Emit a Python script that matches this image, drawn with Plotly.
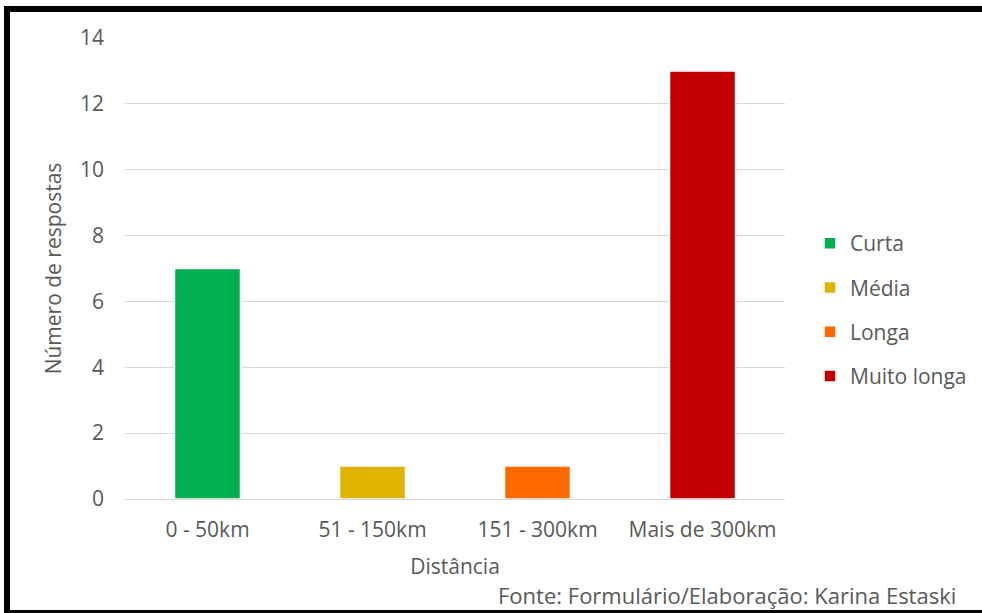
import plotly.graph_objects as go

categories = ["0 - 50km", "51 - 150km", "151 - 300km", "Mais de 300km"]
series_names = ["Curta", "Média", "Longa", "Muito longa"]
values = [7, 1, 1, 13]
colors = ["#00B050", "#DFB300", "#FF6A00", "#C00000"]
y_ticks = [0, 2, 4, 6, 8, 10, 12, 14]

FONT = "Open Sans"
FS = 21
GREY = "#595959"

fig = go.Figure()
for i, (name, cat, val, col) in enumerate(zip(series_names, categories, values, colors)):
    fig.add_trace(go.Bar(
        x=[cat], y=[val], name=name, legendgroup=name,
        marker=dict(color=col, line=dict(color="white", width=1.5)),
        width=0.4,
    ))

L, T, R, B = 125, 38, 785, 499
W, H = R - L, B - T

def px_x(p):
    return (p - L) / W

def px_y(p):
    return (B - p) / H

border = dict(xref="paper", yref="paper", type="line",
              line=dict(color="black", width=6), layer="above")

fig.update_layout(
    width=982, height=613,
    margin=dict(l=L, r=982 - R, t=T, b=613 - B, autoexpand=False),
    paper_bgcolor="white", plot_bgcolor="white",
    barmode="overlay",
    font=dict(family=FONT, size=FS, color=GREY),
    showlegend=True,
    legend=dict(
        x=px_x(810), xanchor="left", y=0.410, yanchor="middle",
        font=dict(family=FONT, size=FS, color=GREY),
        tracegroupgap=14, traceorder="grouped",
        bgcolor="rgba(0,0,0,0)",
    ),
    xaxis=dict(
        categoryorder="array", categoryarray=categories,
        showgrid=False, showline=True, linecolor="#D9D9D9", linewidth=1,
        ticks="", tickfont=dict(family=FONT, size=FS, color=GREY),
        ticklabelstandoff=12,
        title=dict(text="Distância", font=dict(family=FONT, size=FS, color=GREY), standoff=17),
    ),
    yaxis=dict(
        range=[0, 14], tickvals=y_ticks,
        showgrid=True, gridcolor="#D9D9D9", gridwidth=1,
        zeroline=False, showline=False, ticks="",
        tickfont=dict(family=FONT, size=FS, color=GREY),
        ticklabelstandoff=20,
        title=dict(text="Número de respostas", font=dict(family=FONT, size=FS, color=GREY), standoff=12),
    ),
    annotations=[dict(
        text="Fonte: Formulário/Elaboração: Karina Estaski",
        xref="paper", yref="paper", x=px_x(958), y=px_y(595),
        xanchor="right", yanchor="middle", showarrow=False,
        font=dict(family=FONT, size=22, color=GREY),
    )],
    shapes=[
        dict(**border, x0=px_x(7), x1=px_x(7), y0=px_y(616), y1=px_y(6)),
        dict(**border, x0=px_x(4), x1=px_x(1000), y0=px_y(9), y1=px_y(9)),
        dict(**border, x0=px_x(4), x1=px_x(1000), y0=px_y(613), y1=px_y(613)),
    ],
)

fig.write_html("out.html")
